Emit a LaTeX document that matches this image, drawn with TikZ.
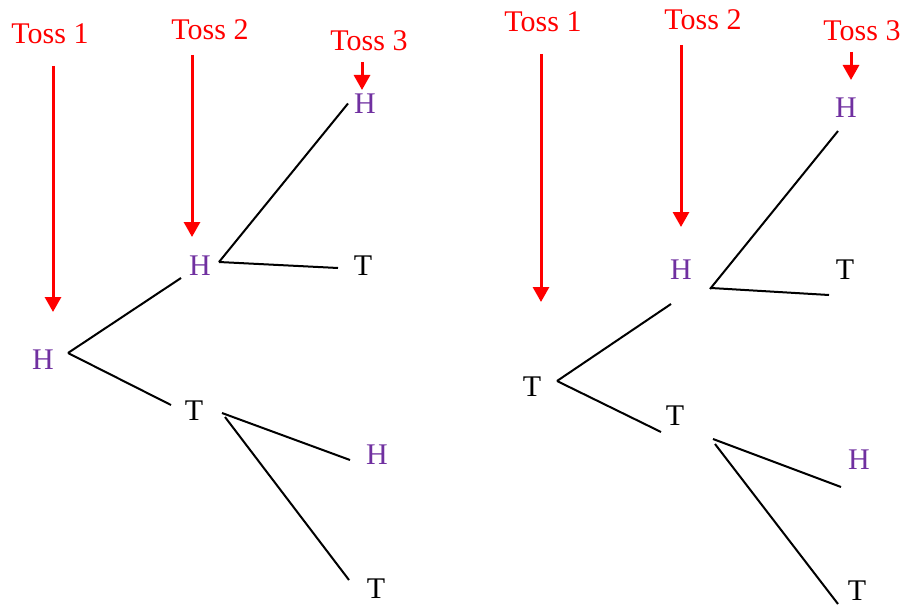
\documentclass[tikz,border=0pt]{standalone}
\usepackage{fontspec}
\setmainfont{Liberation Serif}
\usetikzlibrary{arrows.meta}
\definecolor{cToss}{RGB}{255,0,0}
\definecolor{cHead}{RGB}{112,48,160}

\begin{document}
\begin{tikzpicture}[
			x=0.5pt,y=-0.5pt,
			lbl/.style={inner sep=0pt,text=cToss,font=\rmfamily\fontsize{15}{18}\selectfont},
			hd/.style={inner sep=0pt,text=cHead,font=\rmfamily\fontsize{15}{18}\selectfont},
			tl/.style={inner sep=0pt,text=black,font=\rmfamily\fontsize{15}{18}\selectfont},
			br/.style={line width=1pt,black},
			tossarr/.style={line width=1.5pt,cToss,-{Triangle[width=8pt,length=7.5pt]}}
			]
			\useasboundingbox (0,0) rectangle (908,604);
			% left tree: first toss H
			\node[lbl](aL1) at (50,34) {Toss 1};
			\node[lbl](aL2) at (210,30) {Toss 2};
			\node[lbl](aL3) at (369,41) {Toss 3};
			\coordinate (aS1) at (53,66);  \coordinate (aE1) at (53,312);
			\coordinate (aS2) at (192,55); \coordinate (aE2) at (192,237);
			\coordinate (aS3) at (362,62); \coordinate (aE3) at (362,90);
			\draw[tossarr] (aS1) -- (aE1);
			\draw[tossarr] (aS2) -- (aE2);
			\draw[tossarr] (aS3) -- (aE3);
			\node[hd](aH) at (43,360) {H};
			\node[hd](aHH) at (200,266) {H};
			\node[tl](aHT) at (194,411) {T};
			\node[hd](aHHH) at (365,103.5) {H};
			\node[tl](aHHT) at (363,266) {T};
			\node[hd](aHTH) at (377,455) {H};
			\node[tl](aHTT) at (376,589) {T};
			\draw[br] ([shift={(25,-7)}]aH.center) -- ([shift={(-19,12)}]aHH.center);
			\draw[br] ([shift={(25,-7)}]aH.center) -- ([shift={(-23,-6)}]aHT.center);
			\draw[br] ([shift={(19,-4)}]aHH.center) -- ([shift={(-17,0)}]aHHH.center);
			\draw[br] ([shift={(19,-4)}]aHH.center) -- ([shift={(-25,2)}]aHHT.center);
			\draw[br] ([shift={(28,2)}]aHT.center) -- ([shift={(-27,5)}]aHTH.center);
			\draw[br] ([shift={(31,6)}]aHT.center) -- ([shift={(-27,-9)}]aHTT.center);
			% right tree: first toss T
			\node[lbl](bL1) at (543,22) {Toss 1};
			\node[lbl](bL2) at (703,20) {Toss 2};
			\node[lbl](bL3) at (862,31) {Toss 3};
			\coordinate (bS1) at (541,54); \coordinate (bE1) at (541,302);
			\coordinate (bS2) at (681,45); \coordinate (bE2) at (681,227);
			\coordinate (bS3) at (851,52); \coordinate (bE3) at (851,80);
			\draw[tossarr] (bS1) -- (bE1);
			\draw[tossarr] (bS2) -- (bE2);
			\draw[tossarr] (bS3) -- (bE3);
			\node[tl](bT) at (532,387) {T};
			\node[hd](bTH) at (681,270) {H};
			\node[tl](bTT) at (675,416) {T};
			\node[hd](bTHH) at (846,108) {H};
			\node[tl](bTHT) at (845,270) {T};
			\node[hd](bTTH) at (859,460) {H};
			\node[tl](bTTT) at (857,591) {T};
			\draw[br] ([shift={(25,-6)}]bT.center) -- ([shift={(-10,34)}]bTH.center);
			\draw[br] ([shift={(25,-6)}]bT.center) -- ([shift={(-14,16)}]bTT.center);
			\draw[br] ([shift={(29,19)}]bTH.center) -- ([shift={(-8,23)}]bTHH.center);
			\draw[br] ([shift={(30,18)}]bTH.center) -- ([shift={(-16,25)}]bTHT.center);
			\draw[br] ([shift={(38,23)}]bTT.center) -- ([shift={(-18,27)}]bTTH.center);
			\draw[br] ([shift={(40,28)}]bTT.center) -- ([shift={(-19,13)}]bTTT.center);
		\end{tikzpicture}
\end{document}
